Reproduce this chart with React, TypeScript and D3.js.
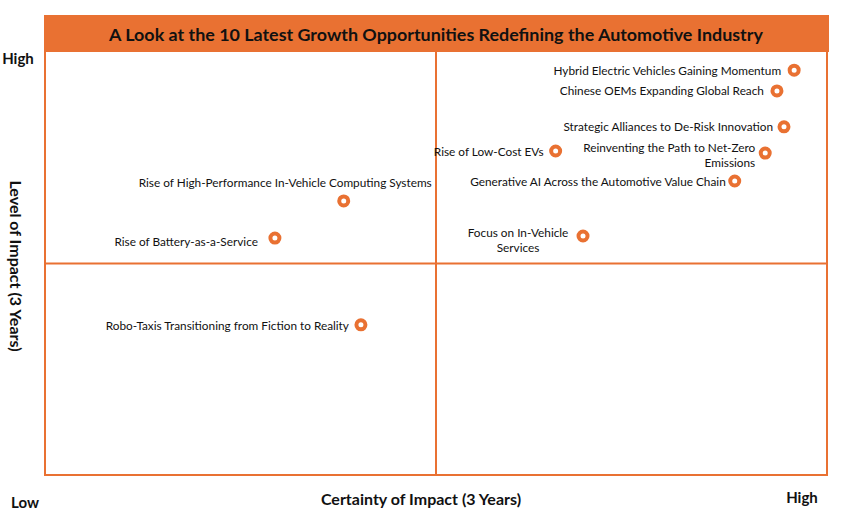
import React from "react";
import * as d3 from "d3";

const titleText = "A Look at the 10 Latest Growth Opportunities Redefining the Automotive Industry";
const xAxisTitle = "Certainty of Impact (3 Years)";
const yAxisTitle = "Level of Impact (3 Years)";
const lowLabel = "Low";
const highLabel = "High";

const opportunities = [
  "Hybrid Electric Vehicles Gaining Momentum",
  "Chinese OEMs Expanding Global Reach",
  "Strategic Alliances to De-Risk Innovation",
  "Rise of Low-Cost EVs",
  "Reinventing the Path to Net-Zero|Emissions",
  "Generative AI Across the Automotive Value Chain",
  "Focus on In-Vehicle|Services",
  "Rise of High-Performance In-Vehicle Computing Systems",
  "Rise of Battery-as-a-Service",
  "Robo-Taxis Transitioning from Fiction to Reality",
];
const certainty = [95.8, 93.6, 94.5, 65.3, 92.1, 88.2, 68.8, 38.2, 29.4, 40.4];
const impact = [95.7, 90.8, 82.3, 76.6, 76.1, 69.5, 56.5, 64.8, 56.0, 35.5];

// label placement (offsets from the marker), kept separate from data
const labelPlacement: { dx: number; dy: number; anchor: string }[] = [
  { dx: -13, dy: 0, anchor: "end" },
  { dx: -13, dy: 0, anchor: "end" },
  { dx: -11, dy: 0, anchor: "end" },
  { dx: -12, dy: 1, anchor: "end" },
  { dx: -10, dy: 2, anchor: "end" },
  { dx: -9, dy: 0, anchor: "end" },
  { dx: -65, dy: 4, anchor: "middle" },
  { dx: 88, dy: -18, anchor: "end" },
  { dx: -17, dy: 3, anchor: "end" },
  { dx: -12, dy: 1, anchor: "end" },
];

const ORANGE = "#E97132";
const W = 864;
const H = 517;
const plot = { left: 45, right: 827, top: 52, bottom: 475 };

export default function App() {
  const x = d3.scaleLinear().domain([0, 100]).range([plot.left, plot.right]);
  const y = d3.scaleLinear().domain([0, 100]).range([plot.bottom, plot.top]);
  const font = "Lato, 'Open Sans', sans-serif";
  const xm = x(50);
  const ym = y(50);

  return (
    <svg
      width={W}
      height={H}
      style={{ position: "absolute", left: 0, top: 0, background: "#fff" }}
      fontFamily={font}
    >
      {/* title band */}
      <rect x={44} y={15} width={785} height={37} fill={ORANGE} />
      <text
        x={436}
        y={33.5}
        textAnchor="middle"
        dominantBaseline="central"
        fontSize={17.9}
        fontWeight="bold"
        fill="#111"
      >
        {titleText}
      </text>

      {/* quadrant frame */}
      <g stroke={ORANGE} strokeWidth={2} fill="none">
        <line x1={plot.left} x2={plot.left} y1={plot.top} y2={plot.bottom} />
        <line x1={plot.right} x2={plot.right} y1={plot.top} y2={plot.bottom} />
        <line x1={plot.left - 1} x2={plot.right + 1} y1={plot.bottom} y2={plot.bottom} />
        <line x1={xm} x2={xm} y1={plot.top} y2={plot.bottom} />
        <line x1={plot.left} x2={plot.right} y1={ym} y2={ym} />
      </g>

      {/* axis labels */}
      <g fontWeight="bold" fill="#111">
        <text x={18} y={64} textAnchor="middle" fontSize={15}>{highLabel}</text>
        <text x={25} y={508} textAnchor="middle" fontSize={15}>{lowLabel}</text>
        <text x={802} y={503} textAnchor="middle" fontSize={15}>{highLabel}</text>
        <text x={421} y={505} textAnchor="middle" fontSize={16}>{xAxisTitle}</text>
        <text
          transform={`translate(10, 266) rotate(90)`}
          textAnchor="middle"
          fontSize={16}
        >
          {yAxisTitle}
        </text>
      </g>

      {/* points */}
      {opportunities.map((name, i) => {
        const cx = x(certainty[i]);
        const cy = y(impact[i]);
        const p = labelPlacement[i];
        const lines = name.split("|");
        const lh = 15;
        const startDy = -((lines.length - 1) * lh) / 2;
        return (
          <g key={name}>
            <text
              x={cx + p.dx}
              y={cy + p.dy}
              textAnchor={p.anchor}
              fontSize={11.8}
              fill="#111"
            >
              {lines.map((ln, j) => (
                <tspan
                  key={j}
                  x={cx + p.dx}
                  dy={j === 0 ? startDy : lh}
                  dominantBaseline="central"
                >
                  {ln}
                </tspan>
              ))}
            </text>
            <circle cx={cx} cy={cy} r={4.5} fill="#fff" stroke={ORANGE} strokeWidth={4} />
          </g>
        );
      })}
    </svg>
  );
}
